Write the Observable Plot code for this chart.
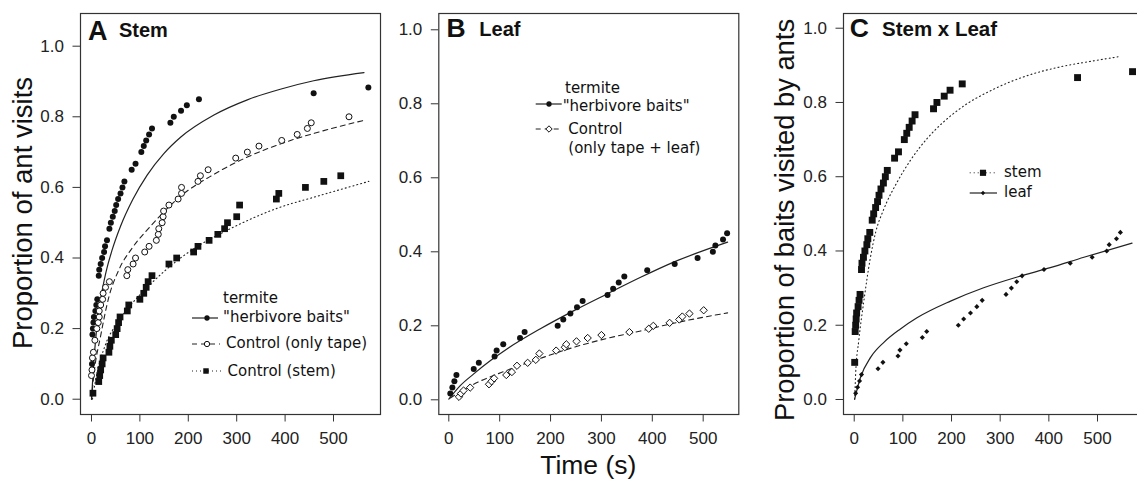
<!DOCTYPE html>
<html>
<head>
<meta charset="utf-8">
<script src="https://cdn.jsdelivr.net/npm/d3@7"></script>
<script src="https://cdn.jsdelivr.net/npm/@observablehq/plot@0.6"></script>
<style>
  html, body { margin: 0; padding: 0; background: #fff; overflow: hidden; }
  #wrap { position: relative; width: 1137px; height: 479px; overflow: hidden; background: #fff; }
  #wrap svg { position: absolute; top: 0; }
</style>
</head>
<body>
<div id="wrap"></div>
<script>
// ---------------- tick labels ----------------
const timeTicks = [0, 100, 200, 300, 400, 500];
const propTicks = [0, 0.2, 0.4, 0.6, 0.8, 1.0];

// ---------------- Panel A: Stem ----------------
const stemBaitTime = [1, 2, 3, 4, 5, 8, 10, 12, 15, 16, 19, 22, 26, 28, 32, 37, 40, 44, 48, 51, 55, 60, 64, 68, 83, 91, 103, 108, 113, 119, 125, 163, 170, 185, 197, 222, 459, 572];
const stemBaitProp = [0.100, 0.183, 0.200, 0.217, 0.233, 0.250, 0.267, 0.283, 0.350, 0.367, 0.383, 0.400, 0.417, 0.433, 0.450, 0.483, 0.500, 0.517, 0.533, 0.550, 0.567, 0.583, 0.600, 0.617, 0.650, 0.667, 0.700, 0.717, 0.733, 0.750, 0.767, 0.783, 0.800, 0.817, 0.833, 0.850, 0.867, 0.883];

const stemTapeTime = [0, 1, 2, 4, 7, 11, 14, 16, 16, 19, 23, 24, 29, 37, 73, 75, 86, 91, 110, 119, 134, 138, 139, 146, 148, 149, 160, 179, 186, 186, 220, 225, 241, 298, 322, 346, 393, 425, 446, 454, 532];
const stemTapeProp = [0.067, 0.083, 0.117, 0.133, 0.167, 0.200, 0.217, 0.233, 0.250, 0.267, 0.283, 0.300, 0.317, 0.333, 0.350, 0.367, 0.383, 0.400, 0.417, 0.433, 0.450, 0.467, 0.483, 0.500, 0.517, 0.533, 0.550, 0.567, 0.583, 0.600, 0.617, 0.633, 0.650, 0.683, 0.700, 0.717, 0.733, 0.750, 0.767, 0.783, 0.800];

const stemCtrlTime = [3, 15, 17, 19, 22, 24, 36, 38, 41, 50, 53, 56, 59, 74, 77, 100, 108, 113, 117, 125, 160, 176, 211, 220, 243, 261, 275, 281, 300, 306, 382, 387, 442, 480, 515];
const stemCtrlProp = [0.017, 0.050, 0.067, 0.083, 0.100, 0.117, 0.133, 0.150, 0.167, 0.183, 0.200, 0.217, 0.233, 0.250, 0.267, 0.283, 0.300, 0.317, 0.333, 0.350, 0.383, 0.400, 0.417, 0.433, 0.450, 0.467, 0.483, 0.500, 0.517, 0.550, 0.567, 0.583, 0.600, 0.617, 0.633];

// fitted curves, panel A
const fitStemBaitTime = [0, 4, 10, 18, 30, 42, 60, 85, 115, 149, 184, 253, 322, 390, 459, 563];
const fitStemBaitProp = [0, 0.09, 0.19, 0.275, 0.36, 0.42, 0.49, 0.565, 0.635, 0.695, 0.742, 0.805, 0.848, 0.878, 0.902, 0.925];
const fitStemTapeTime = [0, 5, 19, 36, 56, 85, 122, 184, 253, 322, 390, 494, 566];
const fitStemTapeProp = [0, 0.07, 0.18, 0.29, 0.365, 0.43, 0.49, 0.575, 0.637, 0.686, 0.723, 0.766, 0.791];
const fitStemCtrlTime = [2, 8, 29, 50, 77, 125, 184, 218, 274, 322, 390, 459, 573];
const fitStemCtrlProp = [0, 0.05, 0.155, 0.21, 0.26, 0.33, 0.40, 0.432, 0.474, 0.506, 0.544, 0.572, 0.617];

// ---------------- Panel B: Leaf ----------------
const leafBaitTime = [3, 7, 11, 15, 49, 59, 90, 94, 107, 140, 149, 214, 225, 239, 252, 263, 312, 323, 334, 345, 390, 444, 489, 519, 524, 539, 547];
const leafBaitProp = [0.017, 0.033, 0.050, 0.067, 0.083, 0.100, 0.117, 0.133, 0.150, 0.167, 0.183, 0.200, 0.217, 0.233, 0.250, 0.267, 0.283, 0.300, 0.317, 0.333, 0.350, 0.367, 0.383, 0.400, 0.417, 0.433, 0.450];

const leafCtrlTime = [20, 24, 29, 42, 79, 84, 89, 113, 124, 134, 155, 171, 178, 211, 228, 231, 251, 273, 300, 355, 393, 402, 434, 453, 459, 473, 501];
const leafCtrlProp = [0.008, 0.017, 0.025, 0.033, 0.042, 0.050, 0.058, 0.067, 0.075, 0.092, 0.100, 0.108, 0.125, 0.133, 0.142, 0.150, 0.158, 0.167, 0.175, 0.183, 0.192, 0.200, 0.208, 0.217, 0.225, 0.233, 0.242];

const fitLeafBaitTime = [0, 23, 49, 82, 115, 180, 246, 311, 377, 442, 548];
const fitLeafBaitProp = [0.002, 0.039, 0.07, 0.106, 0.138, 0.192, 0.241, 0.286, 0.331, 0.372, 0.426];
const fitLeafCtrlTime = [3, 49, 115, 180, 246, 311, 377, 442, 548];
const fitLeafCtrlProp = [0.005, 0.042, 0.080, 0.112, 0.142, 0.166, 0.186, 0.207, 0.235];

// ---------------- Panel C: Stem x Leaf ----------------
const fitCStemTime = [1, 3, 9.5, 20, 33, 44, 60, 88, 116, 150, 184, 218, 287, 355, 424, 492, 547];
const fitCStemProp = [0, 0.07, 0.16, 0.267, 0.38, 0.45, 0.51, 0.585, 0.645, 0.703, 0.748, 0.784, 0.836, 0.872, 0.896, 0.912, 0.924];
const fitCLeafTime = [1, 13, 34, 61, 95, 129, 198, 266, 335, 403, 472, 571];
const fitCLeafProp = [0.002, 0.06, 0.114, 0.154, 0.19, 0.22, 0.265, 0.301, 0.33, 0.355, 0.383, 0.421];

// ---------------- helpers ----------------
const pts = (xs, ys) => xs.map((x, i) => ({x, y: ys[i]}));
const INK = "#111";
const LINE = "#222";
const AXIS_FONT = "'Liberation Sans', Arial, Helvetica, sans-serif";
const LEG_FONT = "'DejaVu Sans', Verdana, sans-serif";
const wrap = document.getElementById("wrap");

function makePanel({left, width, marginLeft, marginRight, xDomain, yDomain, marks}) {
  const svg = Plot.plot({
    width, height: 479,
    marginLeft, marginRight, marginTop: 13, marginBottom: 65,
    x: {domain: xDomain},
    y: {domain: yDomain},
    style: {fontFamily: AXIS_FONT, fontSize: "17px", color: "#222", background: "transparent", overflow: "visible"},
    marks: [
      ...marks,
      Plot.frame({stroke: "#333", strokeWidth: 1.2}),
      Plot.axisX({ticks: timeTicks, tickSize: 7.5, tickPadding: 10, label: null, stroke: "#333", fontSize: 17}),
      Plot.axisY({ticks: propTicks, tickFormat: d3.format(".1f"), tickSize: 7.5, tickPadding: 9, label: null, stroke: "#333", fontSize: 17})
    ]
  });
  svg.style.left = left + "px";
  svg.style.maxWidth = "none";
  wrap.appendChild(svg);
  return d3.select(svg);
}

function addText(sel, txt, x, y, opts = {}) {
  const t = sel.append("text").attr("x", x).attr("y", y).text(txt)
    .attr("font-family", opts.family || AXIS_FONT)
    .attr("font-size", opts.size || 17)
    .attr("font-weight", opts.weight || "normal")
    .attr("fill", opts.fill || "#111")
    .attr("text-anchor", opts.anchor || "start");
  if (opts.transform) t.attr("transform", opts.transform);
  return t;
}

function legendLine(sel, x1, x2, y, dash, width = 1) {
  sel.append("line").attr("x1", x1).attr("x2", x2).attr("y1", y).attr("y2", y)
    .attr("stroke", LINE).attr("stroke-width", width)
    .attr("stroke-dasharray", dash || null);
}

function legendSymbol(sel, type, cx, cy, size, filled) {
  sel.append("path")
    .attr("d", d3.symbol().type(type).size(size)())
    .attr("transform", `translate(${cx},${cy})`)
    .attr("fill", filled ? INK : "white")
    .attr("stroke", INK)
    .attr("stroke-width", filled ? 0 : 1);
}

// ---------------- Panel A ----------------
const A = makePanel({
  left: 0, width: 381, marginLeft: 80, marginRight: 1,
  xDomain: [-22.7, 597.1], yDomain: [-0.0433, 1.0926],
  marks: [
    Plot.line(pts(fitStemBaitTime, fitStemBaitProp), {x: "x", y: "y", curve: "monotone-x", stroke: LINE, strokeWidth: 1.2}),
    Plot.line(pts(fitStemTapeTime, fitStemTapeProp), {x: "x", y: "y", curve: "monotone-x", stroke: LINE, strokeWidth: 1.1, strokeDasharray: "5,4"}),
    Plot.line(pts(fitStemCtrlTime, fitStemCtrlProp), {x: "x", y: "y", curve: "monotone-x", stroke: LINE, strokeWidth: 1.1, strokeDasharray: "1,3"}),
    Plot.dot(pts(stemBaitTime, stemBaitProp), {x: "x", y: "y", r: 3, fill: INK, stroke: "none"}),
    Plot.dot(pts(stemTapeTime, stemTapeProp), {x: "x", y: "y", r: 3, fill: "white", stroke: INK, strokeWidth: 1}),
    Plot.dot(pts(stemCtrlTime, stemCtrlProp), {x: "x", y: "y", r: 3.8, symbol: "square", fill: INK, stroke: "none"})
  ]
});
addText(A, "A", 88, 40, {size: 27, weight: "bold"});
addText(A, "Stem", 119, 37, {size: 20, weight: "bold"});
addText(A, "Proportion of ant visits", 0, 0, {size: 27.5, anchor: "middle", transform: "translate(31.5,213) rotate(-90)"});
// legend A
addText(A, "termite", 223, 303, {family: LEG_FONT, size: 15});
legendLine(A, 192, 218, 318, null, 1.2);
legendSymbol(A, d3.symbolCircle, 207, 318, 22, true);
addText(A, "\"herbivore baits\"", 223, 322, {family: LEG_FONT, size: 15});
legendLine(A, 192, 220, 344, "5,4");
legendSymbol(A, d3.symbolCircle, 207, 344, 22, false);
addText(A, "Control (only tape)", 226, 348, {family: LEG_FONT, size: 15});
legendLine(A, 192, 221, 371, "1,3");
legendSymbol(A, d3.symbolSquare, 206, 371, 30, true);
addText(A, "Control (stem)", 227.5, 375.5, {family: LEG_FONT, size: 15});

// ---------------- Panel B ----------------
const B = makePanel({
  left: 380, width: 360, marginLeft: 58.3, marginRight: 1.7,
  xDomain: [-19.65, 570], yDomain: [-0.0397, 1.044],
  marks: [
    Plot.line(pts(fitLeafBaitTime, fitLeafBaitProp), {x: "x", y: "y", curve: "monotone-x", stroke: LINE, strokeWidth: 1.2}),
    Plot.line(pts(fitLeafCtrlTime, fitLeafCtrlProp), {x: "x", y: "y", curve: "monotone-x", stroke: LINE, strokeWidth: 1.1, strokeDasharray: "5,4"}),
    Plot.dot(pts(leafBaitTime, leafBaitProp), {x: "x", y: "y", r: 3, fill: INK, stroke: "none"}),
    Plot.dot(pts(leafCtrlTime, leafCtrlProp), {x: "x", y: "y", r: 3.3, symbol: "diamond2", fill: "white", stroke: INK, strokeWidth: 1})
  ]
});
addText(B, "B", 66.5, 37.3, {size: 26.5, weight: "bold"});
addText(B, "Leaf", 99.3, 36.3, {size: 20, weight: "bold"});
addText(B, "Time (s)", 208.3, 474, {size: 26.5, anchor: "middle"});
// legend B
addText(B, "termite", 185, 93, {family: LEG_FONT, size: 15});
legendLine(B, 155.7, 181.7, 104, null, 1.2);
legendSymbol(B, d3.symbolCircle, 169, 104, 22, true);
addText(B, "\"herbivore baits\"", 182.7, 111, {family: LEG_FONT, size: 15});
legendLine(B, 155.7, 181.7, 129, "5,4");
legendSymbol(B, d3.symbolDiamond2, 169, 129, 26, false);
addText(B, "Control", 188.3, 133.5, {family: LEG_FONT, size: 15});
addText(B, "(only tape + leaf)", 188.3, 152.5, {family: LEG_FONT, size: 15});

// ---------------- Panel C ----------------
const C = makePanel({
  left: 740, width: 400, marginLeft: 103, marginRight: 1,
  xDomain: [-22.0, 586.3], yDomain: [-0.0404, 1.0396],
  marks: [
    Plot.line(pts(fitCStemTime, fitCStemProp), {x: "x", y: "y", curve: "monotone-x", stroke: LINE, strokeWidth: 1.1, strokeDasharray: "1,3"}),
    Plot.line(pts(fitCLeafTime, fitCLeafProp), {x: "x", y: "y", curve: "monotone-x", stroke: LINE, strokeWidth: 1.2}),
    Plot.dot(pts(stemBaitTime, stemBaitProp), {x: "x", y: "y", r: 3.9, symbol: "square", fill: INK, stroke: "none"}),
    Plot.dot(pts(leafBaitTime, leafBaitProp), {x: "x", y: "y", r: 2.3, symbol: "diamond2", fill: INK, stroke: "none"})
  ]
});
addText(C, "C", 109.7, 37.3, {size: 26.5, weight: "bold"});
addText(C, "Stem x Leaf", 142, 36.3, {size: 20.5, weight: "bold"});
addText(C, "Proportion of baits visited by ants", 0, 0, {size: 27.3, anchor: "middle", transform: "translate(54,220) rotate(-90)"});
// legend C
legendLine(C, 229.7, 257, 172.8, "1,3");
legendSymbol(C, d3.symbolSquare, 243, 172.8, 38, true);
addText(C, "stem", 264, 176.7, {family: LEG_FONT, size: 15});
legendLine(C, 229.7, 257, 193, null, 1.2);
legendSymbol(C, d3.symbolDiamond2, 243, 193, 12, true);
addText(C, "leaf", 264, 197, {family: LEG_FONT, size: 15});
</script>
</body>
</html>
